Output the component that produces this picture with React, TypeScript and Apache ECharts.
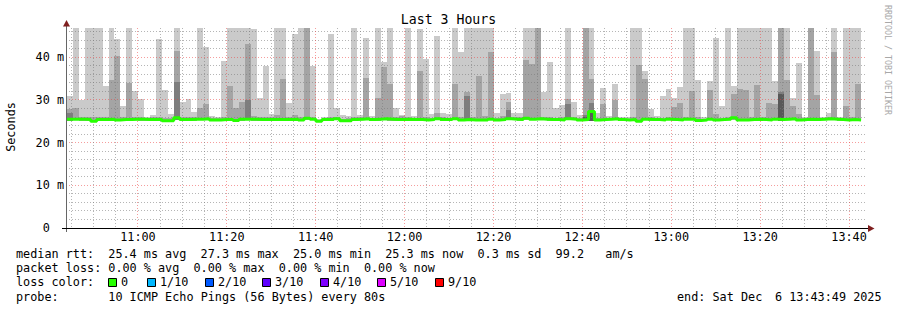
import React, { useEffect, useRef } from 'react';
import * as echarts from 'echarts';

const MONO = "'DejaVu Sans Mono', 'Liberation Mono', monospace";

// ---- axes ----
const graphEnd = '13:43:49';
const graphSpanSec = 3 * 3600;
const firstStepStart = '10:44:03';
const stepSec = 80;
const yMax = 46.85;
const xMajorTicks = ['11:00', '11:20', '11:40', '12:00', '12:20', '12:40', '13:00', '13:20', '13:40'];
const yMajorTicks = [0, 10, 20, 30, 40];
const yMinorStep = 2;
const xMinorStepSec = 300;

// ---- data (ms), one value per 80 s step ----
const pingMax = [
  30.9, 48, 30.0, 48, 48, 48, 33.3, 48, 44.3, 28.6,
  48, 32.2, 30.2, 26.0, 26.4, 44.3, 32.3, 26.7, 48, 29.6,
  30.2, 27.1, 48, 42.5, 26.3, 26.0, 39.2, 48, 48, 48,
  48, 46.6, 30.4, 38.0, 26.8, 48, 48, 29.2, 45.4, 48,
  48, 37.9, 25.6, 26.1, 45.4, 28.0, 26.4, 26.2, 48, 26.4,
  44.6, 26.2, 48, 38.8, 48, 28.0, 26.5, 48, 26.2, 46.6,
  39.5, 26.6, 44.9, 26.9, 26.6, 48, 41.2, 48, 48, 48,
  48, 48, 26.9, 31.3, 31.6, 26.9, 27.0, 48, 48, 48,
  31.8, 38.9, 28.0, 28.8, 48, 29.4, 26.4, 48, 48, 26.9,
  32.7, 26.3, 33.7, 25.9, 25.9, 48, 48, 36.8, 27.9, 26.2,
  30.9, 32.5, 30.4, 33.0, 48, 48, 34.6, 25.9, 34.4, 44.5,
  28.6, 48, 33.3, 48, 48, 48, 48, 48, 48, 34.4,
  48, 48, 30.4, 38.7, 25.9, 48, 41.5, 25.9, 27.0, 48,
  25.9, 48, 48, 48,
];
const ping9 = [
  27.8, 28.1, 25.9, 26.1, 26.0, 25.9, 26.0, 34.7, 40.3, 25.9,
  33.9, 25.9, 25.9, 25.7, 25.9, 25.9, 25.8, 25.7, 41.5, 26.0,
  25.9, 26.1, 28.0, 29.0, 25.8, 25.7, 25.9, 33.3, 28.1, 29.6,
  43.0, 26.2, 25.9, 25.9, 26.0, 26.4, 34.8, 25.9, 26.4, 26.1,
  48, 25.9, 25.4, 25.8, 25.9, 25.9, 25.6, 25.7, 26.0, 25.9,
  35.1, 25.8, 30.4, 37.7, 33.7, 25.9, 26.3, 26.0, 25.8, 36.8,
  25.9, 25.8, 26.9, 25.9, 25.8, 33.7, 25.9, 31.8, 26.0, 35.6,
  26.2, 41.2, 25.8, 26.2, 29.6, 25.9, 25.9, 39.3, 38.4, 48,
  25.9, 25.9, 25.8, 25.9, 30.3, 25.9, 25.7, 48, 34.9, 25.8,
  29.0, 25.8, 29.9, 25.6, 25.6, 26.0, 38.2, 34.8, 25.9, 25.7,
  25.8, 26.0, 28.4, 29.2, 26.0, 32.0, 25.9, 25.6, 32.3, 26.8,
  25.8, 26.0, 31.3, 32.5, 32.3, 26.0, 33.5, 26.1, 29.2, 29.0,
  48, 34.6, 28.6, 26.6, 25.7, 48, 31.2, 25.7, 25.9, 41.2,
  25.7, 28.5, 26.1, 33.7,
];
// [step index, ms] where the inner smoke layers rise visibly above the median
const ping8Visible = [[0, 27.0], [18, 34.2], [30, 29.9], [67, 31.0], [74, 27.6], [84, 29.0], [87, 26.4], [88, 29.2], [120, 31.9]];
const ping7Visible = [[87, 25.9], [88, 27.6], [120, 31.4]];
const pingMin = [
  25.1, 25.2, 25.1, 25.1, 24.8, 25.0, 25.1, 25.2, 25.0, 25.1,
  25.1, 25.2, 25.1, 25.1, 25.0, 25.1, 24.9, 24.9, 25.3, 25.1,
  25.0, 25.1, 25.2, 25.2, 25.0, 25.0, 25.1, 25.1, 24.9, 25.1,
  25.2, 25.1, 25.1, 25.0, 25.1, 25.1, 25.0, 25.1, 25.2, 25.0,
  25.2, 25.2, 24.8, 25.1, 25.1, 25.2, 24.9, 24.8, 25.1, 25.2,
  25.2, 25.1, 25.1, 25.2, 25.1, 25.1, 25.0, 25.2, 25.1, 25.0,
  25.0, 25.1, 25.3, 25.1, 25.0, 25.2, 25.0, 25.1, 25.0, 25.0,
  25.0, 25.2, 25.0, 25.1, 25.2, 25.2, 25.1, 25.3, 25.2, 25.2,
  25.2, 25.1, 25.1, 25.0, 25.2, 25.2, 25.0, 25.0, 25.1, 25.0,
  25.1, 25.2, 25.2, 25.1, 25.0, 25.1, 24.8, 25.2, 25.1, 25.1,
  25.0, 25.2, 25.1, 25.0, 25.2, 25.2, 24.9, 25.0, 25.2, 25.0,
  25.1, 25.2, 25.4, 25.0, 25.0, 25.1, 25.2, 25.1, 25.0, 25.2,
  25.1, 25.2, 25.3, 25.0, 25.1, 25.2, 25.1, 25.2, 25.3, 25.2,
  25.1, 25.0, 25.1, 25.0,
];
const medianRtt = [
  25.5, 25.5, 25.5, 25.4, 25.0, 25.4, 25.4, 25.5, 25.3, 25.4,
  25.4, 25.5, 25.5, 25.4, 25.4, 25.4, 25.1, 25.1, 25.8, 25.4,
  25.4, 25.5, 25.5, 25.6, 25.3, 25.3, 25.4, 25.4, 25.2, 25.5,
  25.5, 25.5, 25.4, 25.4, 25.4, 25.4, 25.4, 25.4, 25.5, 25.3,
  25.7, 25.5, 25.0, 25.4, 25.4, 25.6, 25.1, 25.1, 25.4, 25.5,
  25.6, 25.4, 25.5, 25.6, 25.5, 25.4, 25.4, 25.5, 25.4, 25.4,
  25.3, 25.4, 25.6, 25.4, 25.4, 25.6, 25.3, 25.4, 25.3, 25.3,
  25.3, 25.5, 25.3, 25.4, 25.6, 25.5, 25.4, 25.7, 25.5, 25.6,
  25.5, 25.4, 25.4, 25.3, 25.6, 25.5, 25.3, 25.4, 27.3, 25.3,
  25.4, 25.5, 25.6, 25.4, 25.3, 25.4, 25.0, 25.5, 25.4, 25.4,
  25.3, 25.5, 25.4, 25.3, 25.5, 25.5, 25.2, 25.3, 25.5, 25.3,
  25.4, 25.5, 25.8, 25.3, 25.3, 25.4, 25.5, 25.4, 25.3, 25.5,
  25.4, 25.5, 25.6, 25.3, 25.4, 25.5, 25.4, 25.5, 25.6, 25.5,
  25.4, 25.3, 25.4, 25.3,
];

// ---- legend texts ----
const titleText = 'Last 3 Hours';
const yAxisName = 'Seconds';
const watermark = 'RRDTOOL / TOBI OETIKER';
const rttLegend = ['median rtt:', '25.4 ms avg', '27.3 ms max', '25.0 ms min', '25.3 ms now', '0.3 ms sd', '99.2', 'am/s'];
const rttCols = [0, 13, 26, 39, 52, 65, 76, 83];
const lossLegend = ['packet loss:', '0.00 % avg', '0.00 % max', '0.00 % min', '0.00 % now'];
const lossCols = [0, 13, 25, 37, 49];
const lossColorTitle = 'loss color:';
const lossColorLabels = ['0', '1/10', '2/10', '3/10', '4/10', '5/10', '9/10'];
const lossColors = ['#26ff00', '#00b8ff', '#0059ff', '#5e00ff', '#7e00ff', '#dd00ff', '#ff0000'];
const lossBoxX = [108, 147, 205, 262, 320, 377, 435];
const probeTitle = 'probe:';
const probeText = '10 ICMP Echo Pings (56 Bytes) every 80s';
const endParts = ['end: Sat Dec', '6 13:43:49 2025'];

// ---- styles ----
const SMOKE = ['#cacaca', '#a4a4a4', '#7e7e7e', '#585858'];
const MINOR = 'rgba(120,120,120,0.55)';
const MAJOR = 'rgba(235,60,60,0.5)';
const FS = 11.8;
const CW = 7.1;
const LEFT_TEXT = 16;

function toSec(s: string) {
  const p = s.split(':').map(Number);
  return p[0] * 3600 + p[1] * 60 + (p[2] || 0);
}
function fmtTime(sec: number) {
  const h = Math.floor(sec / 3600);
  const m = Math.round((sec % 3600) / 60);
  return `${h}:${String(m).padStart(2, '0')}`;
}

function txt(x: number, y: number, text: string, extra: any = {}) {
  return {
    type: 'text',
    x,
    y,
    silent: true,
    z: 20,
    rotation: extra.rotation || 0,
    style: {
      text,
      fill: extra.fill || '#000',
      font: `${extra.size || FS}px ${MONO}`,
      fontSize: extra.size || FS,
      fontFamily: MONO,
      align: extra.align || 'left',
      textAlign: extra.align || 'left',
      verticalAlign: 'middle',
      textVerticalAlign: 'middle',
    },
  };
}

function buildOption() {
  const endSec = toSec(graphEnd);
  const startSec = endSec - graphSpanSec;
  const firstSec = toSec(firstStepStart);
  const n = pingMax.length;
  const p8 = new Map(ping8Visible as [number, number][]);
  const p7 = new Map(ping7Visible as [number, number][]);

  const smokeData = pingMax.map((mx, i) => [
    firstSec + i * stepSec,
    firstSec + (i + 1) * stepSec,
    pingMin[i],
    mx,
    ping9[i],
    p8.get(i) ?? 0,
    p7.get(i) ?? 0,
  ]);
  const medianData = medianRtt.map((m, i) => [firstSec + i * stepSec, m]);
  medianData.push([firstSec + n * stepSec, medianRtt[n - 1]]);

  const majorSec = xMajorTicks.map(toSec);
  const hLines: number[][] = [];
  for (let v = yMinorStep; v < yMax; v += yMinorStep) hLines.push([v, v % 10 === 0 ? 1 : 0]);
  const vLines: number[][] = [];
  for (let t = Math.ceil(startSec / xMinorStepSec) * xMinorStepSec; t < endSec; t += xMinorStepSec) {
    vLines.push([t, majorSec.includes(t) ? 1 : 0]);
  }

  const graphic: any[] = [];
  graphic.push(txt(448.5, 19.5, titleText, { align: 'center', size: 13.2 }));
  graphic.push(txt(11, 127, yAxisName, { align: 'center', rotation: Math.PI / 2 }));
  graphic.push(txt(887.5, 60, watermark, { align: 'center', rotation: -Math.PI / 2, size: 8.3, fill: '#a8a8a8' }));
  // axes + arrows
  graphic.push({ type: 'line', silent: true, z: 20, shape: { x1: 66.5, y1: 232, x2: 66.5, y2: 25 }, style: { stroke: '#666', lineWidth: 1 } });
  graphic.push({ type: 'line', silent: true, z: 20, shape: { x1: 62, y1: 228.5, x2: 868, y2: 228.5 }, style: { stroke: '#000', lineWidth: 1 } });
  graphic.push({ type: 'polygon', silent: true, z: 21, shape: { points: [[63, 26.5], [70, 26.5], [66.5, 20]] }, style: { fill: '#7f1f1f' } });
  graphic.push({ type: 'polygon', silent: true, z: 21, shape: { points: [[868, 225], [868, 232], [874.5, 228.5]] }, style: { fill: '#7f1f1f' } });
  // legend rows
  rttLegend.forEach((s, i) => graphic.push(txt(LEFT_TEXT + rttCols[i] * CW, 254, s)));
  lossLegend.forEach((s, i) => graphic.push(txt(LEFT_TEXT + lossCols[i] * CW, 268, s)));
  graphic.push(txt(LEFT_TEXT, 282, lossColorTitle));
  lossColorLabels.forEach((s, i) => {
    graphic.push({ type: 'rect', silent: true, z: 20, shape: { x: lossBoxX[i] + 0.5, y: 278.5, width: 8, height: 8 }, style: { fill: lossColors[i], stroke: '#000', lineWidth: 1 } });
    graphic.push(txt(lossBoxX[i] + 13, 282, s));
  });
  graphic.push(txt(LEFT_TEXT, 296.5, probeTitle));
  graphic.push(txt(LEFT_TEXT + 13 * CW, 296.5, probeText));
  graphic.push(txt(677, 296.5, endParts[0]));
  graphic.push(txt(677 + 14 * 7.0, 296.5, endParts[1]));

  return {
    animation: false,
    backgroundColor: '#ffffff',
    grid: { left: 66, top: 28, width: 800, height: 200, containLabel: false, outerBoundsMode: 'none' },
    xAxis: {
      type: 'value',
      min: startSec,
      max: endSec,
      axisLine: { show: false },
      axisTick: { show: false },
      splitLine: { show: false },
      axisLabel: {
        customValues: majorSec,
        formatter: (v: number) => fmtTime(v),
        fontFamily: MONO,
        fontSize: FS,
        color: '#000',
        margin: 3,
      },
    },
    yAxis: {
      type: 'value',
      min: 0,
      max: yMax,
      interval: 10,
      axisLine: { show: false },
      axisTick: { show: false },
      splitLine: { show: false },
      axisLabel: {
        customValues: yMajorTicks,
        formatter: (v: number) => (v % 10 !== 0 ? '' : v === 0 ? '0\u00a0\u00a0' : `${v} m`),
        fontFamily: MONO,
        fontSize: FS,
        color: '#000',
        margin: 2,
      },
    },
    series: [
      {
        type: 'custom',
        z: 1,
        silent: true,
        encode: { x: [0, 1], y: [2, 3] },
        data: smokeData,
        renderItem: (params: any, api: any) => {
          const x0 = Math.round(api.coord([api.value(0), 0])[0]);
          const x1 = Math.round(api.coord([api.value(1), 0])[0]);
          const yb = Math.round(api.coord([0, api.value(2)])[1]);
          const children: any[] = [];
          [3, 4, 5, 6].forEach((d, k) => {
            const v = api.value(d);
            if (!(v > 0)) return;
            const yt = Math.round(api.coord([0, Math.min(v, yMax)])[1]);
            if (yb - yt <= 0) return;
            children.push({ type: 'rect', shape: { x: x0, y: yt, width: x1 - x0, height: yb - yt }, style: { fill: SMOKE[k] } });
          });
          return { type: 'group', children };
        },
      },
      {
        type: 'custom',
        z: 2,
        silent: true,
        encode: { y: 0 },
        data: hLines,
        renderItem: (params: any, api: any) => {
          const cs = params.coordSys;
          const y = Math.floor(api.coord([startSec, api.value(0)])[1]) + 0.5;
          return {
            type: 'line',
            shape: { x1: cs.x, y1: y, x2: cs.x + cs.width, y2: y },
            style: { stroke: api.value(1) ? MAJOR : MINOR, lineWidth: 1, lineDash: [1, 2] },
          };
        },
      },
      {
        type: 'custom',
        z: 2,
        silent: true,
        encode: { x: 0 },
        data: vLines,
        renderItem: (params: any, api: any) => {
          const cs = params.coordSys;
          const x = Math.floor(api.coord([api.value(0), 0])[0]) + 0.5;
          return {
            type: 'line',
            shape: { x1: x, y1: cs.y, x2: x, y2: cs.y + cs.height },
            style: { stroke: api.value(1) ? MAJOR : MINOR, lineWidth: 1, lineDash: [1, 2] },
          };
        },
      },
      {
        type: 'line',
        z: 3,
        silent: true,
        step: 'end',
        showSymbol: false,
        symbol: 'none',
        data: medianData,
        lineStyle: { color: '#26ff00', width: 3 },
      },
    ],
    graphic,
  };
}

export default function App() {
  const ref = useRef<HTMLDivElement>(null);
  useEffect(() => {
    if (!ref.current) return;
    const chart = echarts.init(ref.current, null, { renderer: 'svg', width: 897, height: 310 });
    chart.setOption(buildOption() as any);
    return () => chart.dispose();
  }, []);
  return (
    <div
      ref={ref}
      style={{ position: 'fixed', left: 0, top: 0, width: 897, height: 310, background: '#fff' }}
    />
  );
}
